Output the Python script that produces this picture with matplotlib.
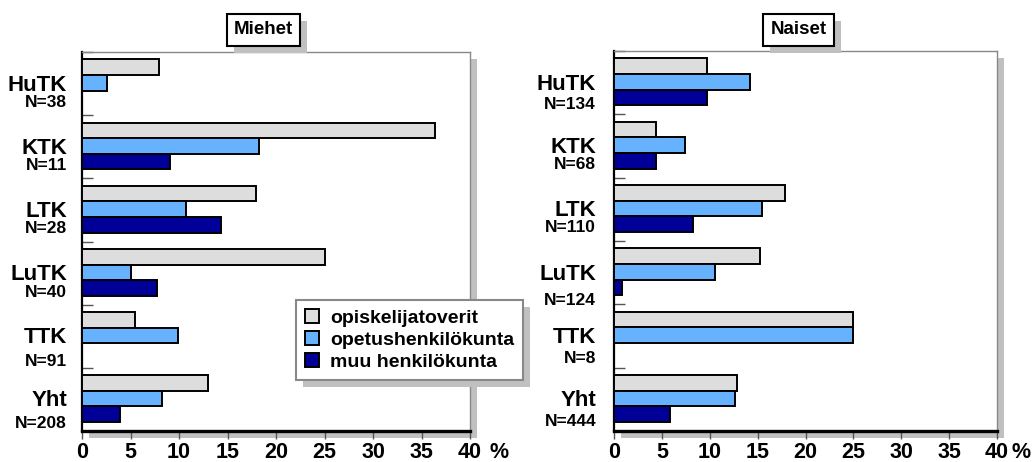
import numpy as np
import matplotlib
matplotlib.use('Agg')
import matplotlib.pyplot as plt
from matplotlib.patches import Rectangle
from matplotlib.transforms import IdentityTransform

plt.rcParams['font.family'] = ['Liberation Sans', 'DejaVu Sans']
plt.rcParams['font.weight'] = 'bold'

# data (percent)
categories = ['HuTK', 'KTK', 'LTK', 'LuTK', 'TTK', 'Yht']
series = ['opiskelijatoverit', 'opetushenkilökunta', 'muu henkilökunta']
colors = ['#dddddd', '#66b2ff', '#000099']

men_n = [38, 11, 28, 40, 91, 208]
men_opiskelijat = [7.9, 36.4, 17.9, 25.0, 5.5, 13.0]
men_opetus = [2.6, 18.2, 10.7, 5.0, 9.9, 8.2]
men_muu = [0.0, 9.1, 14.3, 7.7, 0.0, 3.9]

women_n = [134, 68, 110, 124, 8, 444]
women_opiskelijat = [9.7, 4.4, 17.9, 15.3, 25.0, 12.8]
women_opetus = [14.2, 7.4, 15.5, 10.5, 25.0, 12.6]
women_muu = [9.7, 4.4, 8.2, 0.8, 0.0, 5.9]

xticks = list(range(0, 41, 5))

# layout helpers (pixels -> points)
PX = 72 / 100
SHADOW = '#c0c0c0'


def draw_panel(ax, values, counts, n_offsets, label_pad, pct_dx):
    y = np.arange(len(categories))
    offsets = [-0.259, -0.012, 0.235]
    for k, (vals, color, label) in enumerate(zip(values, colors, series)):
        ax.barh(y + offsets[k], vals, height=0.247, color=color,
                edgecolor='black', linewidth=1.4, label=label, zorder=3)
    ax.set_xlim(0, 40)
    ax.set_ylim(5.5, -0.5)
    ax.set_xticks(xticks)
    ax.set_xticklabels([str(t) for t in xticks], fontsize=15.5, fontweight='bold')
    ax.set_yticks(np.arange(-0.5, 5.5, 1))
    ax.tick_params(axis='y', direction='in', length=11 * PX, width=1,
                   color='#555555', labelleft=False)
    ax.tick_params(axis='x', direction='out', length=8 * PX, width=1,
                   color='#555555', pad=2.5)
    for side in ['top', 'right']:
        ax.spines[side].set_color('#888888')
        ax.spines[side].set_linewidth(1)
    ax.spines['left'].set_color('black')
    ax.spines['left'].set_linewidth(1.6)
    ax.spines['bottom'].set_color('black')
    ax.spines['bottom'].set_linewidth(2.4)

    for i, (cat, n) in enumerate(zip(categories, counts)):
        ax.annotate(cat, xy=(0, i), xycoords=('axes fraction', 'data'),
                    xytext=(-label_pad * PX, 1 * PX), textcoords='offset points',
                    ha='right', va='center_baseline', fontsize=16,
                    fontweight='bold')
        ax.annotate(f'N={n}', xy=(0, i), xycoords=('axes fraction', 'data'),
                    xytext=(-label_pad * PX, -n_offsets[i] * PX),
                    textcoords='offset points', ha='right',
                    va='center_baseline', fontsize=12.5, fontweight='bold')

    ax.annotate('%', xy=(1, 0), xycoords='axes fraction',
                xytext=(pct_dx * PX, -10.5 * PX), textcoords='offset points',
                ha='left', va='top', fontsize=15.5, fontweight='bold')


fig = plt.figure(figsize=(10.34, 4.62), dpi=100)
ax1 = fig.add_axes([82 / 1034, 31 / 462, 388 / 1034, 379 / 462])
ax2 = fig.add_axes([614 / 1034, 31 / 462, 383 / 1034, 380 / 462])

draw_panel(ax1, [men_opiskelijat, men_opetus, men_muu], men_n,
           [17, 17, 17, 18, 24, 23], 15, 19)
draw_panel(ax2, [women_opiskelijat, women_opetus, women_muu], women_n,
           [20, 17, 17, 26, 21, 21], 18, 15)

leg = ax1.legend(loc='upper left', bbox_to_anchor=((296 - 82) / 388, (431 - 300) / 379),
                 borderaxespad=0, fancybox=False, framealpha=1, edgecolor='#888888',
                 prop={'size': 14, 'weight': 'bold'}, handlelength=0.75,
                 handleheight=0.75, handletextpad=0.55, labelspacing=0.22,
                 borderpad=0.45)
leg.get_frame().set_linewidth(1.5)
leg.set_zorder(10)

titles = []
for text, x in [('Miehet', 263.5), ('Naiset', 798.5)]:
    titles.append(fig.text(x / 1034, 1 - 30 / 462, text, ha='center', va='center',
                           fontsize=13.5, fontweight='bold', zorder=3,
                           bbox=dict(boxstyle='square,pad=0.38', fc='white',
                                     ec='black', lw=1.5)))

# drop shadows
fig.canvas.draw()
renderer = fig.canvas.get_renderer()
d = 7
for ax in [ax1, ax2]:
    bb = ax.get_window_extent(renderer)
    fig.add_artist(Rectangle((bb.x0 + d, bb.y0 - d), bb.width, bb.height,
                             transform=IdentityTransform(), color=SHADOW,
                             lw=0, zorder=-1))
for t in titles:
    bb = t.get_bbox_patch().get_window_extent(renderer)
    fig.add_artist(Rectangle((bb.x0 + d, bb.y0 - d), bb.width, bb.height,
                             transform=IdentityTransform(), color=SHADOW,
                             lw=0, zorder=2))
bb = leg.get_window_extent(renderer)
shadow = Rectangle((bb.x0 + d, bb.y0 - d), bb.width, bb.height,
                   transform=IdentityTransform(), color=SHADOW, lw=0,
                   zorder=9, clip_on=False)
ax1.add_artist(shadow)

fig.savefig('out.png', dpi=100)
